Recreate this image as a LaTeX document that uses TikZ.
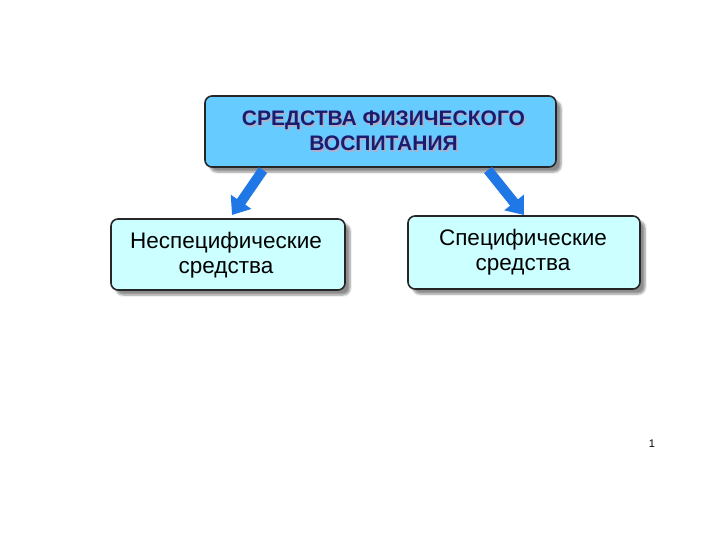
\documentclass[tikz,border=0pt]{standalone}
\usepackage{fontspec}
\setmainfont{Liberation Sans}
\usetikzlibrary{arrows.meta,shadows.blur}
\definecolor{topfill}{HTML}{66CCFF}
\definecolor{subfill}{HTML}{CCFFFF}
\definecolor{navy}{HTML}{1C1C6E}
\definecolor{arrowblue}{HTML}{1F78E6}
\tikzset{
  box/.style={draw=black!85, line width=1.6pt, rounded corners=7pt,
    blur shadow={shadow xshift=5pt, shadow yshift=-5pt, shadow blur steps=6, shadow opacity=45}},
  topbox/.style={box, fill=topfill},
  subbox/.style={box, fill=subfill},
  flow/.style={draw=arrowblue, line width=10pt, -{Triangle[width=24pt,length=16pt]}},
}
\begin{document}
\begin{tikzpicture}[x=1pt,y=-1pt]
\useasboundingbox (0,0) rectangle (720,540);
\draw[topbox] (205,96) rectangle (556,167);
\node[text=navy!35, align=center, font=\fontsize{21}{25}\selectfont\bfseries] at (385,132.5) {СРЕДСТВА ФИЗИЧЕСКОГО\\ВОСПИТАНИЯ};
\node[text=navy, align=center, font=\fontsize{21}{25}\selectfont\bfseries] (toptext) at (383.5,131) {СРЕДСТВА ФИЗИЧЕСКОГО\\ВОСПИТАНИЯ};
\draw[subbox] (111,219) rectangle (345,290);
\node[align=center, font=\fontsize{22.5}{25}\selectfont] (left) at (226,255) {Неспецифические\\средства};
\draw[subbox] (408,216) rectangle (640,289);
\node[align=center, font=\fontsize{22.5}{25}\selectfont] (right) at (523,252.5) {Специфические\\средства};
\coordinate (ls) at (263,170);
\coordinate (le) at (232,215);
\coordinate (rs) at (488,170);
\coordinate (re) at (524,215);
\draw[flow] (ls) -- (le);
\draw[flow] (rs) -- (re);
\node[font=\fontsize{11}{13}\selectfont] (num) at (652,444) {1};
\end{tikzpicture}
\end{document}
